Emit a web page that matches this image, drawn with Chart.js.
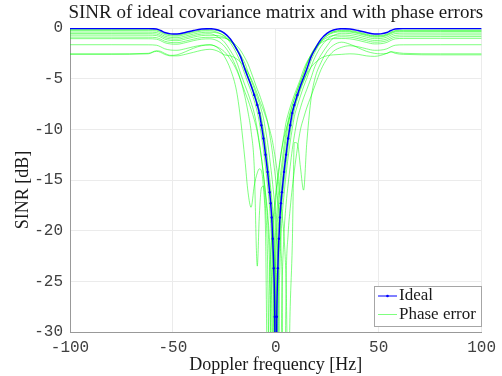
<!DOCTYPE html>
<html>
<head>
<meta charset="utf-8">
<script src="https://cdn.jsdelivr.net/npm/chart.js@4.4.0/dist/chart.umd.min.js"></script>
<style>
  html, body { margin: 0; padding: 0; background: #fff; }
  canvas { display: block; }
</style>
</head>
<body>
<canvas id="sinr" width="502" height="376"></canvas>
<script>
// Doppler frequency grid [Hz]
const freqHz = [-100,-80,-62,-58,-56,-54,-51,-48,-44,-40,-36,-32,
  -28,-25,-22,-19,-17,-15,-13.5,-12,-10.5,-9,-8,-7,-6,-5,-4,-3,-2.5,-2,-1.5,-1,-0.5,0,
  0.5,1,1.5,2,2.5,3,4,5,6,7,8,9,10.5,12,13.5,15,17,19,22,25,28,
  32,36,40,44,48,51,54,56,58,62,80,100];

// SINR [dB], ideal covariance matrix
const sinrIdeal = [-0.05,-0.05,-0.06,-0.1,-0.25,-0.45,-0.58,-0.6,-0.45,-0.25,-0.1,-0.07,
  -0.2,-0.5,-1.1,-2.1,-2.9,-4.1,-4.9,-5.7,-6.6,-7.6,-8.4,-9.6,-10.9,-12.5,-14.2,-16.2,-17.3,-18.7,-20.8,-23.7,-28.5,-45,
  -28.5,-23.7,-20.8,-18.7,-17.3,-16.2,-14.2,-12.5,-10.9,-9.6,-8.4,-7.6,-6.6,-5.7,-4.9,-4.1,-2.9,-2.1,-1.1,-0.5,-0.2,
  -0.07,-0.1,-0.25,-0.45,-0.6,-0.58,-0.45,-0.25,-0.1,-0.06,-0.05,-0.05];

// SINR [dB] with phase errors, one array per trial
const pe1 = [-0.15,-0.15,-0.16,-0.2,-0.35,-0.55,-0.68,-0.7,-0.55,-0.35,-0.2,-0.17,
  -0.28,-0.56,-1.12,-2.08,-2.84,-3.96,-4.76,-5.56,-6.46,-7.46,-8.2,-9.2,-10.5,-11.9,-13.6,-15.5,-16.5,-17.7,-19.2,-21.4,-24.6,-30.4,
  -40,-27.4,-23.3,-20.6,-18.6,-17.3,-15.2,-13.4,-11.7,-10.3,-9.1,-8.1,-7.0,-6.1,-5.3,-4.5,-3.3,-2.4,-1.35,-0.73,-0.39,
  -0.22,-0.25,-0.4,-0.6,-0.75,-0.73,-0.6,-0.4,-0.25,-0.21,-0.2,-0.2];
const pe2 = [-0.25,-0.25,-0.26,-0.3,-0.45,-0.65,-0.78,-0.8,-0.65,-0.45,-0.3,-0.27,
  -0.46,-0.82,-1.48,-2.54,-3.46,-4.6,-5.45,-6.25,-7.17,-8.3,-9.3,-10.6,-12.0,-13.7,-15.6,-17.8,-19.3,-21.5,-24.7,-30.5,-40,-27.5,
  -23.4,-20.7,-18.7,-17.4,-16.3,-15.3,-13.5,-11.8,-10.4,-9.2,-8.2,-7.5,-6.55,-5.65,-4.85,-4.05,-2.95,-2.2,-1.28,-0.74,-0.47,
  -0.37,-0.4,-0.55,-0.75,-0.9,-0.88,-0.75,-0.55,-0.4,-0.36,-0.35,-0.35];
const pe3 = [-0.4,-0.4,-0.41,-0.45,-0.6,-0.8,-0.93,-0.95,-0.8,-0.6,-0.45,-0.42,
  -0.5,-0.76,-1.27,-2.18,-2.89,-3.91,-4.75,-5.6,-6.4,-7.32,-8.05,-8.85,-10.05,-11.35,-13.05,-14.75,-15.75,-16.75,-17.95,-19.45,-21.65,-24.85,
  -30.65,-40,-27.65,-23.55,-20.85,-18.85,-16.45,-14.45,-12.75,-11.25,-9.95,-8.75,-7.65,-6.7,-5.8,-5.0,-3.9,-2.9,-1.82,-1.13,-0.74,
  -0.52,-0.55,-0.7,-0.9,-1.05,-1.03,-0.9,-0.7,-0.55,-0.51,-0.5,-0.5];
const pe4 = [-0.55,-0.55,-0.56,-0.6,-0.75,-0.95,-1.08,-1.1,-0.95,-0.75,-0.6,-0.57,
  -0.89,-1.38,-2.26,-3.36,-4.54,-5.65,-6.45,-7.35,-8.4,-10.0,-11.3,-12.8,-14.5,-16.5,-18.9,-23.6,-27.7,-40,-30.9,-25.1,-21.9,-19.7,
  -18.2,-17.0,-16.0,-15.0,-14.1,-13.3,-11.6,-10.3,-9.1,-8.3,-7.6,-7.0,-6.1,-5.3,-4.5,-3.6,-2.8,-2.07,-1.35,-0.94,-0.73,
  -0.7,-0.73,-0.88,-1.08,-1.23,-1.21,-1.08,-0.88,-0.73,-0.69,-0.68,-0.68];
const pe5 = [-0.7,-0.7,-0.71,-0.75,-0.9,-1.1,-1.23,-1.25,-1.1,-0.9,-0.75,-0.72,
  -0.75,-0.93,-1.31,-1.99,-2.69,-3.47,-4.33,-5.15,-5.95,-6.85,-7.4,-8.1,-8.9,-10.05,-11.3,-12.8,-13.65,-14.5,-15.45,-16.45,-17.55,-18.75,
  -20.65,-23.15,-26.85,-36,-33.3,-26.1,-20.3,-17.4,-15.4,-13.65,-12.0,-10.65,-9.0,-7.85,-6.9,-6.1,-5.0,-3.8,-2.65,-1.74,-1.0,
  -0.87,-0.9,-1.05,-1.25,-1.4,-1.38,-1.25,-1.05,-0.9,-0.86,-0.85,-0.85];
const pe6 = [-1.05,-1.05,-1.06,-1.1,-1.25,-1.45,-1.58,-1.6,-1.45,-1.25,-1.1,-1.07,
  -1.3,-1.8,-2.7,-4.0,-5.2,-6.8,-8.3,-10.2,-13.6,-23.5,-18.5,-15.8,-15.6,-17.8,-23.0,-40,-28.2,-24.1,-21.4,-19.4,-18.1,-17.0,
  -16.0,-15.0,-14.2,-13.3,-12.5,-11.8,-10.5,-9.3,-8.5,-7.8,-7.2,-6.6,-5.8,-5.0,-4.1,-3.4,-2.7,-2.05,-1.47,-1.17,-1.05,
  -1.04,-1.07,-1.22,-1.42,-1.57,-1.55,-1.42,-1.22,-1.07,-1.03,-1.02,-1.02];
const pe7 = [-0.9,-0.9,-0.91,-0.95,-1.1,-1.3,-1.43,-1.45,-1.3,-1.1,-0.95,-0.92,
  -0.95,-1.0,-1.25,-1.75,-2.25,-2.95,-3.55,-4.35,-5.2,-6.05,-6.55,-7.15,-7.75,-8.45,-9.25,-10.45,-11.1,-11.75,-12.5,-13.35,-14.15,-15.05,
  -16.05,-17.05,-18.15,-19.55,-21.65,-24.55,-45,-25.3,-20.3,-17.8,-15.8,-14.1,-11.85,-10.0,-8.9,-7.9,-6.8,-5.7,-4.1,-3.0,-2.3,
  -1.9,-1.75,-1.85,-2.05,-2.2,-2.18,-2.05,-1.85,-1.7,-1.66,-1.65,-1.65];
const pe8 = [-1.65,-1.65,-1.66,-1.7,-1.85,-2.05,-2.18,-2.2,-2.05,-1.85,-1.7,-1.67,
  -1.92,-2.34,-3.1,-4.18,-5.22,-6.32,-7.12,-8.02,-9.02,-10.25,-11.45,-12.8,-14.45,-16.2,-18.2,-21.1,-23.5,-26.9,-34.1,-36,-26.4,-22.7,
  -20.2,-18.3,-17.1,-16.0,-15.0,-14.1,-12.4,-10.9,-9.6,-8.5,-7.7,-7.0,-6.1,-5.3,-4.5,-3.6,-2.65,-1.95,-1.1,-0.6,-0.35,
  -0.29,-0.32,-0.47,-0.67,-0.82,-0.8,-0.67,-0.47,-0.32,-0.28,-0.27,-0.27];
const pe9 = [-2.55,-2.55,-2.5,-2.25,-2.3,-2.5,-2.7,-2.65,-2.35,-2.0,-1.75,-1.65,
  -2.0,-2.8,-4.1,-6.3,-9.2,-13.0,-16.2,-17.7,-15.6,-14.3,-13.9,-14.1,-15.8,-20.0,-35,-24.5,-22.1,-20.4,-19.2,-18.2,-17.2,-16.25,
  -15.45,-14.6,-13.8,-13.1,-12.45,-11.85,-10.8,-10.0,-9.3,-8.7,-8.1,-7.6,-6.8,-5.9,-5.2,-4.6,-3.9,-3.45,-2.97,-2.73,-2.65,
  -2.6,-2.55,-2.6,-2.75,-2.8,-2.7,-2.5,-2.35,-2.5,-2.6,-2.65,-2.65];
const pe10 = [-2.6,-2.6,-2.55,-2.3,-2.4,-2.6,-2.75,-2.75,-2.6,-2.4,-2.2,-2.1,
  -2.3,-2.65,-2.75,-3.05,-3.4,-3.9,-4.4,-5.0,-5.7,-6.5,-7.1,-7.6,-8.1,-8.7,-9.3,-10.0,-10.4,-10.8,-11.3,-11.9,-12.5,-13.2,
  -13.9,-14.7,-15.6,-16.4,-17.4,-18.3,-20.6,-25.1,-36,-27.5,-21.5,-11.3,-11.4,-13.8,-16.0,-11.5,-7.2,-5.0,-3.4,-2.3,-1.7,
  -1.4,-1.6,-1.95,-2.3,-2.5,-2.55,-2.5,-2.35,-2.4,-2.5,-2.55,-2.55];
const phaseErrTrials = [pe1, pe2, pe3, pe4, pe5, pe6, pe7, pe8, pe9, pe10];

const xTicks = [-100, -50, 0, 50, 100];
const yTicks = [0, -5, -10, -15, -20, -25, -30];

const titleText = 'SINR of ideal covariance matrix and with phase errors';
const xTitle = 'Doppler frequency [Hz]';
const yTitle = 'SINR [dB]';
const legendLabels = ['Ideal', 'Phase error'];

const BLUE = 'rgb(0,0,255)';
const GREEN = 'rgba(0,255,0,0.5)';
const SERIF = '"Liberation Serif", "Times New Roman", serif';
const MONO = '"Liberation Mono", "Courier New", monospace';

const toPoints = ys => freqHz.map((f, i) => ({ x: f, y: ys[i] }));

const datasets = [{
  label: legendLabels[0],
  data: toPoints(sinrIdeal),
  borderColor: BLUE,
  backgroundColor: BLUE,
  borderWidth: 1.5,
  // markers only stand out where the curve is steep
  pointRadius: c => (c.raw && Math.abs(c.raw.x) <= 10.5 ? 1.2 : 0),
  pointBorderWidth: 0,
  cubicInterpolationMode: 'monotone'
}];
phaseErrTrials.forEach(ys => datasets.push({
  label: legendLabels[1],
  data: toPoints(ys),
  borderColor: GREEN,
  borderWidth: 1,
  pointRadius: 0,
  cubicInterpolationMode: 'monotone'
}));

// titles and the in-plot legend
const textPlugin = {
  id: 'texts',
  afterDraw(chart) {
    const ctx = chart.ctx, a = chart.chartArea;
    ctx.save();
    ctx.fillStyle = '#1a1a1a';
    ctx.textAlign = 'center';
    ctx.textBaseline = 'middle';
    ctx.font = '19px ' + SERIF;
    ctx.fillText(titleText, (a.left + a.right) / 2, 13);
    ctx.font = '18px ' + SERIF;
    ctx.fillText(xTitle, (a.left + a.right) / 2, 365);
    ctx.save();
    ctx.translate(23, 190);
    ctx.rotate(-Math.PI / 2);
    ctx.fillText(yTitle, 0, 0);
    ctx.restore();

    // legend
    const bx = 374.5, by = 286.5, bw = 107, bh = 40;
    ctx.fillStyle = '#fff';
    ctx.fillRect(bx, by, bw, bh);
    ctx.strokeStyle = '#a6a6a6';
    ctx.lineWidth = 1;
    ctx.strokeRect(bx, by, bw, bh);
    ctx.font = '17px ' + SERIF;
    const rows = [[BLUE, 296], [GREEN, 314.5]];
    rows.forEach(([col, y], i) => {
      ctx.strokeStyle = col;
      ctx.beginPath();
      ctx.moveTo(378, y);
      ctx.lineTo(397, y);
      ctx.stroke();
      if (i === 0) {
        ctx.fillStyle = BLUE;
        ctx.beginPath();
        ctx.arc(387.5, y, 1.3, 0, Math.PI * 2);
        ctx.fill();
      }
      ctx.fillStyle = '#1a1a1a';
      ctx.textAlign = 'left';
      ctx.fillText(legendLabels[i], 399, y);
    });
    ctx.restore();
  }
};

new Chart(document.getElementById('sinr'), {
  type: 'line',
  data: { datasets: datasets },
  options: {
    responsive: false,
    animation: false,
    events: [],
    layout: { padding: { top: 28, right: 18, left: 0, bottom: 0 } },
    plugins: {
      legend: { display: false },
      tooltip: { enabled: false },
      title: { display: false }
    },
    scales: {
      x: {
        type: 'linear',
        min: -100,
        max: 100,
        afterBuildTicks: s => { s.ticks = xTicks.map(v => ({ value: v })); },
        afterFit: s => { s.height = 44; },
        ticks: {
          autoSkip: false,
          maxRotation: 0,
          padding: 6,
          color: '#404040',
          font: { family: MONO, size: 16 },
          callback: v => String(v)
        },
        grid: { color: '#ebebeb', drawTicks: false },
        border: { color: '#999', width: 1 }
      },
      y: {
        type: 'linear',
        min: -30,
        max: 0,
        afterBuildTicks: s => { s.ticks = yTicks.map(v => ({ value: v })); },
        afterFit: s => { s.width = 70; },
        ticks: {
          padding: 7,
          color: '#404040',
          font: { family: MONO, size: 16 },
          callback: v => String(v)
        },
        grid: { color: '#ebebeb', drawTicks: false },
        border: { color: '#999', width: 1 }
      }
    }
  },
  plugins: [textPlugin]
});
</script>
</body>
</html>
